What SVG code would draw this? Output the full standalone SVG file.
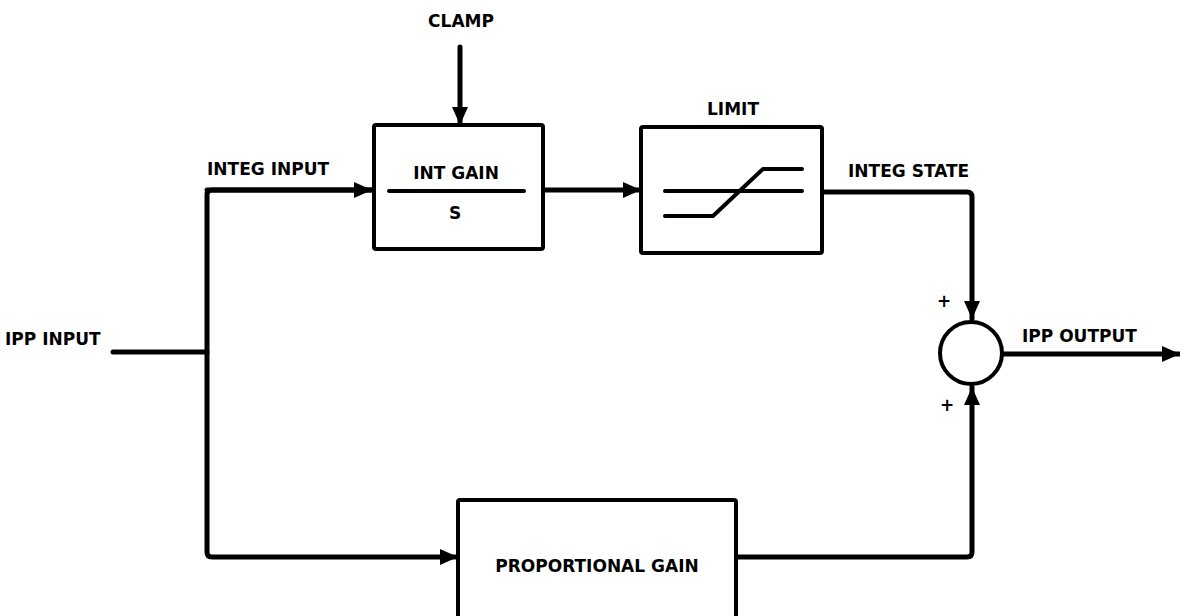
<svg xmlns="http://www.w3.org/2000/svg" width="1180" height="616" viewBox="0 0 1180 616">
<style>
.t{font-family:"DejaVu Sans","Liberation Sans",sans-serif;font-weight:bold;font-size:17px;fill:#000}
.box{fill:#fff;stroke:#000;stroke-width:4;stroke-linejoin:round}
.w{fill:none;stroke:#000;stroke-width:5;stroke-linejoin:round;stroke-linecap:round}
.sym{fill:none;stroke:#000;stroke-width:4;stroke-linecap:round;stroke-linejoin:round}
</style>
<defs>
<marker id="ah" markerUnits="userSpaceOnUse" markerWidth="18" markerHeight="16" refX="18" refY="8" orient="auto">
<path d="M0,0 L18,8 L0,16 Z" fill="#000"/>
</marker>
</defs>
<rect width="1180" height="616" fill="#fff"/>
<g id="connectors">
<path class="w" d="M460,47 L460,125" marker-end="url(#ah)"/>
<path class="w" d="M113,352 L207,352"/>
<path class="w" d="M372,190 L212,190 Q207,190 207,195 L207,552 Q207,557 212,557 L458,557" marker-end="url(#ah)"/>
<path class="w" d="M207,190 L372,190" marker-end="url(#ah)"/>
<path class="w" d="M543,190 L641,190" marker-end="url(#ah)"/>
<path class="w" d="M822,192 L967,192 Q972,192 972,197 L972,319" marker-end="url(#ah)"/>
<path class="w" d="M736,557 L967,557 Q972,557 972,552 L972,387" marker-end="url(#ah)"/>
<path class="w" d="M1003,354 L1180,354" marker-end="url(#ah)"/>
</g>
<g id="clamp-label"><text class="t" x="461" y="27" text-anchor="middle">CLAMP</text></g>
<g id="ipp-input"><text class="t" x="5" y="345">IPP INPUT</text></g>
<g id="integ-input-label"><text class="t" x="207" y="175">INTEG INPUT</text></g>
<g id="int-gain">
<rect class="box" x="374" y="125" width="169" height="124" rx="2"/>
<text class="t" x="456" y="179" text-anchor="middle">INT GAIN</text>
<line x1="389" y1="191" x2="524" y2="191" stroke="#000" stroke-width="4" stroke-linecap="round"/>
<text class="t" x="455" y="219" text-anchor="middle">S</text>
</g>
<g id="limit">
<text class="t" x="733" y="115" text-anchor="middle">LIMIT</text>
<rect class="box" x="641" y="127" width="181" height="126" rx="2"/>
<path class="sym" d="M665,191 L802,191"/>
<path class="sym" d="M665,216 L713,216 L763,169 L802,169"/>
</g>
<g id="integ-state-label"><text class="t" x="848" y="177">INTEG STATE</text></g>
<g id="sum">
<circle cx="971" cy="353" r="31" fill="#fff" stroke="#000" stroke-width="4"/>
<text class="t" x="944" y="307" text-anchor="middle" font-size="12">+</text>
<text class="t" x="947" y="411" text-anchor="middle" font-size="12">+</text>
</g>
<g id="ipp-output"><text class="t" x="1022" y="342">IPP OUTPUT</text></g>
<g id="proportional-gain">
<rect class="box" x="458" y="500" width="278" height="130" rx="2"/>
<text class="t" x="597" y="572" text-anchor="middle">PROPORTIONAL GAIN</text>
</g>
</svg>
